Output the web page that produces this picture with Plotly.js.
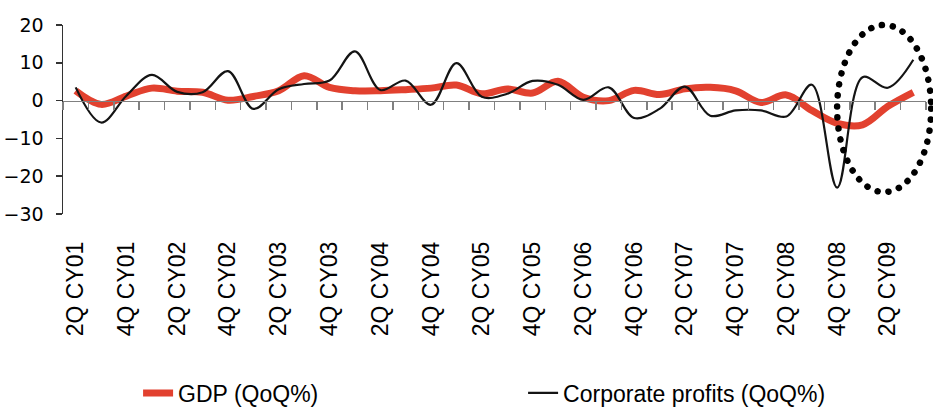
<!DOCTYPE html>
<html>
<head>
<meta charset="utf-8">
<script src="https://cdn.plot.ly/plotly-3.0.1.min.js"></script>
<style>
  html, body { margin: 0; padding: 0; background: #ffffff; }
  #chart { width: 933px; height: 407px; }
</style>
</head>
<body>
<div id="chart"></div>
<script>
// Quarterly growth, QoQ %
const quarters = [
  '2Q CY01', '3Q CY01', '4Q CY01',
  '1Q CY02', '2Q CY02', '3Q CY02', '4Q CY02',
  '1Q CY03', '2Q CY03', '3Q CY03', '4Q CY03',
  '1Q CY04', '2Q CY04', '3Q CY04', '4Q CY04',
  '1Q CY05', '2Q CY05', '3Q CY05', '4Q CY05',
  '1Q CY06', '2Q CY06', '3Q CY06', '4Q CY06',
  '1Q CY07', '2Q CY07', '3Q CY07', '4Q CY07',
  '1Q CY08', '2Q CY08', '3Q CY08', '4Q CY08',
  '1Q CY09', '2Q CY09', '3Q CY09'
];

const gdp = [
  2.6, -1.0, 1.2,
  3.3, 2.5, 2.2, 0.1,
  1.1, 2.6, 6.6, 3.5,
  2.6, 2.6, 2.9, 3.3,
  4.1, 1.8, 3.1, 2.0,
  5.1, 0.9, 0.0, 2.7,
  1.6, 3.1, 3.5, 2.6,
  -0.5, 1.5, -2.6, -6.0,
  -6.4, -1.5, 2.2
];

const corporateProfits = [
  3.5, -5.8, 1.3,
  6.8, 2.3, 2.2, 7.8,
  -2.2, 3.0, 4.4, 5.3,
  13.0, 2.8, 5.3, -1.1,
  9.9, 1.0, 1.8, 5.2,
  4.2, 0.2, 3.5, -4.6,
  -2.2, 3.7, -4.0, -2.6,
  -2.6, -4.2, 4.2, -23.0,
  6.2, 3.4, 10.8
];

const yTicks = [-30, -20, -10, 0, 10, 20];
const seriesNames = ['GDP (QoQ%)', 'Corporate profits (QoQ%)'];

const RED = '#E2412F';
const BLACK = '#141414';
const AXIS_GREY = '#808080';

const yRange = [-30, 20];
// fraction of the plot height where the value 0 sits
const zeroPos = (0 - yRange[0]) / (yRange[1] - yRange[0]);

const traces = [
  {
    x: quarters, y: gdp, name: seriesNames[0],
    type: 'scatter', mode: 'lines',
    line: { color: RED, width: 7, shape: 'spline', smoothing: 1 },
    hoverinfo: 'skip'
  },
  {
    x: quarters, y: corporateProfits, name: seriesNames[1],
    type: 'scatter', mode: 'lines',
    line: { color: BLACK, width: 2.2, shape: 'spline', smoothing: 1 },
    hoverinfo: 'skip'
  },
  {
    // carries the category axis that crosses at zero
    x: quarters, y: quarters.map(() => null),
    xaxis: 'x2', type: 'scatter', mode: 'lines',
    line: { width: 0 }, showlegend: false, hoverinfo: 'skip'
  }
];

const layout = {
  width: 933, height: 407,
  margin: { l: 63, r: 7, t: 25, b: 193, autoexpand: false },
  paper_bgcolor: '#ffffff', plot_bgcolor: 'rgba(0,0,0,0)',
  showlegend: true,
  xaxis: {
    type: 'category',
    categoryorder: 'array', categoryarray: quarters,
    range: [-0.5, quarters.length - 0.5],
    tickmode: 'linear', tick0: 0, dtick: 2,
    tickangle: -90,
    ticks: '', showline: false, showgrid: false, zeroline: false,
    ticklabelstandoff: 22,
    tickfont: { family: 'Liberation Sans, Arial, sans-serif', size: 23, color: '#000000' }
  },
  xaxis2: {
    type: 'category', overlaying: 'x', matches: 'x',
    anchor: 'free', position: zeroPos,
    categoryorder: 'array', categoryarray: quarters,
    range: [-0.5, quarters.length - 0.5],
    tickmode: 'linear', tick0: 0, dtick: 1,
    tickson: 'boundaries',
    ticks: 'outside', ticklen: 8, tickwidth: 1.5, tickcolor: AXIS_GREY,
    showline: true, linecolor: AXIS_GREY, linewidth: 1.5,
    showticklabels: false, showgrid: false, zeroline: false
  },
  yaxis: {
    range: yRange,
    tickmode: 'array', tickvals: yTicks,
    ticks: 'outside', ticklen: 6, tickwidth: 1.5, tickcolor: '#333333',
    showline: true, linecolor: '#333333', linewidth: 1.5,
    showgrid: false, zeroline: false,
    ticklabelstandoff: 8,
    tickfont: { family: 'DejaVu Sans, sans-serif', size: 19, color: '#000000' }
  },
  legend: {
    orientation: 'h',
    x: 0.087, xanchor: 'left',
    y: -0.947, yanchor: 'middle',
    entrywidth: 340, entrywidthmode: 'pixels',
    bgcolor: 'rgba(0,0,0,0)', borderwidth: 0,
    font: { family: 'Liberation Sans, Arial, sans-serif', size: 23, color: '#000000' }
  },
  shapes: [
    {
      // dotted ring around the 2009 rebound
      type: 'circle', xref: 'paper', yref: 'paper',
      x0: 0.897, x1: 1.006, y0: 0.116, y1: 1.0,
      line: { color: '#000000', width: 6.5, dash: '0.1px,11px' },
      fillcolor: 'rgba(0,0,0,0)',
      layer: 'above'
    }
  ]
};

Plotly.newPlot('chart', traces, layout, { staticPlot: true, displayModeBar: false })
  .then(function (gd) {
    // round caps turn the dotted outline into round dots
    gd.querySelectorAll('.shapelayer path').forEach(function (p) {
      p.style.strokeLinecap = 'round';
    });
  });
</script>
</body>
</html>
